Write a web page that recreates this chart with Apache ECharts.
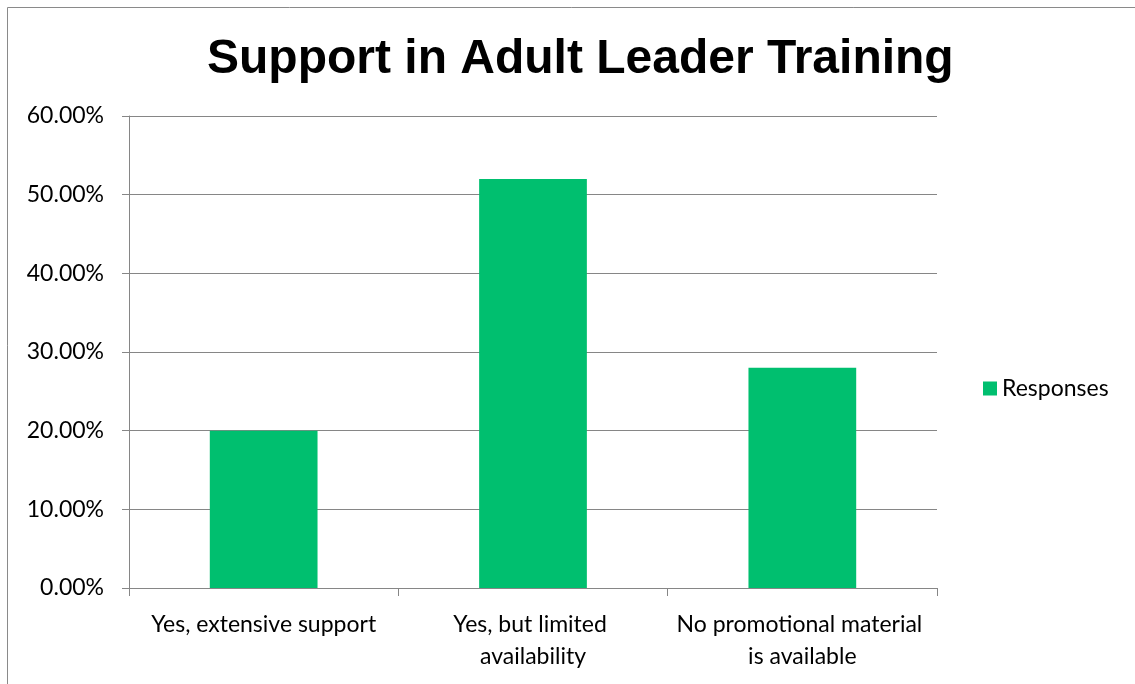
<!DOCTYPE html>
<html>
<head>
<meta charset="utf-8">
<script src="https://cdn.jsdelivr.net/npm/echarts@6/dist/echarts.min.js"></script>
<style>
  html, body { margin: 0; padding: 0; background: #fff; }
  #chart { width: 1135px; height: 684px; }
</style>
</head>
<body>
<div id="chart"></div>
<script>
// Survey categories and share of responses (percent)
const categories = [
  'Yes, extensive support',
  'Yes, but limited availability',
  'No promotional material is available'
];
const responses = [20, 52, 28];
const seriesName = 'Responses';
const chartTitle = 'Support in Adult Leader Training';

const labelFont = 'Lato, "Open Sans", sans-serif';
const axisGray = '#868686';

const chart = echarts.init(document.getElementById('chart'), null, { renderer: 'canvas' });
chart.setOption({
  backgroundColor: '#ffffff',
  animation: false,
  title: {
    text: chartTitle,
    left: 202,
    top: 31,
    textStyle: {
      fontFamily: '"Liberation Sans", Arial, sans-serif',
      fontWeight: 'bold',
      fontSize: 48,
      color: '#000'
    }
  },
  legend: {
    data: [seriesName],
    orient: 'vertical',
    left: 978,
    top: 372,
    icon: 'rect',
    itemWidth: 14,
    itemHeight: 14,
    itemGap: 8,
    textStyle: { fontFamily: labelFont, fontSize: 23, color: '#000' }
  },
  grid: { left: 129, right: 198, top: 116, bottom: 96, containLabel: false },
  xAxis: {
    type: 'category',
    data: categories,
    axisLine: { lineStyle: { color: axisGray } },
    axisTick: { show: true, alignWithLabel: false, length: 8, lineStyle: { color: axisGray } },
    axisLabel: {
      interval: 0,
      margin: 21,
      width: 255,
      overflow: 'break',
      lineHeight: 32,
      fontFamily: labelFont,
      fontSize: 23,
      color: '#000'
    },
    splitLine: { show: false }
  },
  yAxis: {
    type: 'value',
    min: 0,
    max: 60,
    interval: 10,
    axisLine: { show: true, lineStyle: { color: axisGray } },
    axisTick: { show: true, length: 7, lineStyle: { color: axisGray } },
    axisLabel: {
      formatter: v => v.toFixed(2) + '%',
      margin: 25,
      fontFamily: labelFont,
      fontSize: 23,
      color: '#000'
    },
    splitLine: { lineStyle: { color: axisGray, width: 1 } }
  },
  series: [{
    name: seriesName,
    type: 'bar',
    data: responses,
    barWidth: '40%',
    itemStyle: { color: '#00BF6F' }
  }],
  graphic: [
    { type: 'line', shape: { x1: 7.5, y1: 7.5, x2: 1135, y2: 7.5 }, style: { stroke: '#8a8a8a', lineWidth: 1 } },
    { type: 'line', shape: { x1: 7.5, y1: 7.5, x2: 7.5, y2: 684 }, style: { stroke: '#8a8a8a', lineWidth: 1 } }
  ]
});
</script>
</body>
</html>
